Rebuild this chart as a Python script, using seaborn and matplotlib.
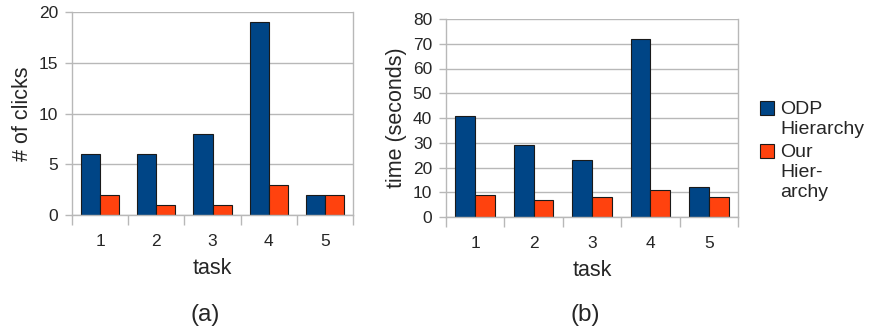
import matplotlib
matplotlib.use("Agg")
import numpy as np
import pandas as pd
import matplotlib.pyplot as plt
import seaborn as sns

# data
tasks = ["1", "2", "3", "4", "5"]
series = ["ODP Hierarchy", "Our Hierarchy"]
clicks_odp = [6, 6, 8, 19, 2]
clicks_ours = [2, 1, 1, 3, 2]
time_odp = [41, 29, 23, 72, 12]
time_ours = [9, 7, 8, 11, 8]
colors = ["#004586", "#ff420e"]

df = pd.DataFrame({
    "task": tasks * 2,
    "series": [series[0]] * 5 + [series[1]] * 5,
    "clicks": clicks_odp + clicks_ours,
    "time": time_odp + time_ours,
})

sns.set_style("white")
plt.rcParams["font.family"] = ["Liberation Sans", "DejaVu Sans"]

grey = "#b8b8b8"
fig = plt.figure(figsize=(8.76, 3.33), dpi=100)
ax1 = fig.add_axes([72 / 876, 118 / 333, 281 / 876, 203 / 333])
ax2 = fig.add_axes([446 / 876, 116 / 333, 292 / 876, 198 / 333])


def style(ax, col, ylab, ymax, step):
    sns.barplot(data=df, x="task", y=col, hue="series", palette=colors,
                saturation=1, width=0.68, edgecolor="#1a1a1a", linewidth=0.8,
                ax=ax)
    ax.set_axisbelow(True)
    ax.set_ylim(0, ymax)
    ax.set_xlim(-0.5, 4.5)
    ax.set_yticks(np.arange(0, ymax + 1, step))
    ax.yaxis.grid(True, color=grey, linewidth=1)
    ax.set_xticks(range(5))
    ax.set_xticklabels(tasks)
    ax.set_xticks(np.arange(-0.5, 5, 1), minor=True)
    ax.tick_params(axis="x", which="major", length=0, pad=14, labelsize=12.5)
    ax.tick_params(axis="x", which="minor", length=7, width=1, color=grey,
                   direction="out", bottom=True)
    ax.tick_params(axis="y", length=5, width=1, color=grey, direction="out",
                   left=True, pad=5, labelsize=12.5)
    for s in ["left", "bottom", "right"]:
        ax.spines[s].set_color(grey)
        ax.spines[s].set_linewidth(1)
    ax.spines["top"].set_visible(False)
    ax.set_xlabel("task", fontsize=15.5, labelpad=6)
    ax.set_ylabel(ylab, fontsize=15.5, labelpad=4)


style(ax1, "clicks", "# of clicks", 20, 5)
style(ax2, "time", "time (seconds)", 80, 10)

handles, _ = ax2.get_legend_handles_labels()
ax1.get_legend().remove()
ax2.get_legend().remove()
leg = fig.legend(handles, ["ODP\nHierarchy", "Our\nHier-\narchy"],
                 loc="upper left", bbox_to_anchor=(752 / 876, 1 - 93 / 333),
                 frameon=False, fontsize=14, handlelength=0.75,
                 handleheight=0.75, handletextpad=0.3, labelspacing=0.3,
                 borderaxespad=0)
for col in leg._legend_handle_box.get_children():
    for row in col.get_children():
        row.align = "top"
for t in leg.get_texts():
    t.set_linespacing(1.25)

fig.text(205 / 876, 1 - 315 / 333, "(a)", ha="center", va="center", fontsize=17.5)
fig.text(585 / 876, 1 - 315 / 333, "(b)", ha="center", va="center", fontsize=17.5)

fig.savefig("out.png", dpi=100)
